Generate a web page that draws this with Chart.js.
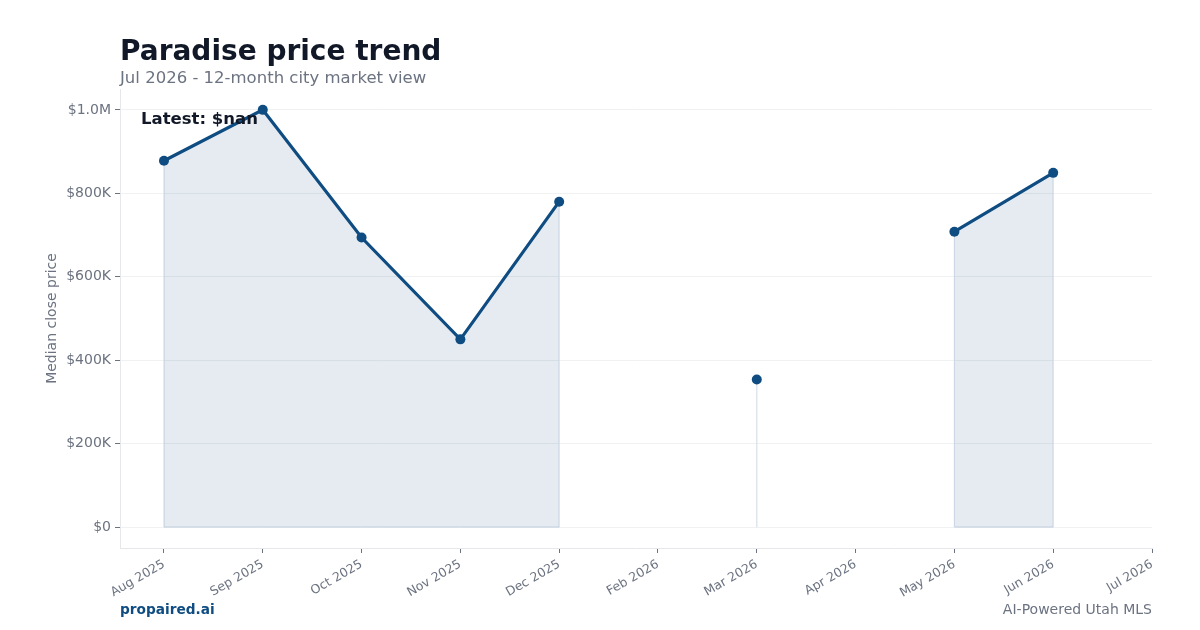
<!DOCTYPE html>
<html>
<head>
<meta charset="utf-8">
<script src="https://cdn.jsdelivr.net/npm/chart.js@4.4.1/dist/chart.umd.min.js"></script>
<style>
  html, body { margin: 0; padding: 0; background: #fff; }
  #wrap { width: 1200px; height: 630px; position: relative; }
</style>
</head>
<body>
<div id="wrap"><canvas id="grafico" width="1200" height="630"></canvas></div>
<script>
// ========================
// Dados do gráfico
// ========================
const meses = ["Aug 2025", "Sep 2025", "Oct 2025", "Nov 2025", "Dec 2025", "Feb 2026",
               "Mar 2026", "Apr 2026", "May 2026", "Jun 2026", "Jul 2026"];
const medianas = [878000, 1000000, 694000, 450000, 780000, null, 354000, null, 708000, 849000, null];
const yTicks = [0, 200000, 400000, 600000, 800000, 1000000];

const titulo = "Paradise price trend";
const subtitulo = "Jul 2026 - 12-month city market view";
const ultimo = "Latest: $nan";

const azul = "#0f4c81";
const cinza = "#6b7280";

function fmtPreco(v) {
  if (v >= 1000000) return "$" + (v / 1000000).toFixed(1) + "M";
  if (v === 0) return "$0";
  return "$" + Math.round(v / 1000) + "K";
}

const pontos = medianas.map((v, i) => ({ x: i, y: v }));

// ========================
// Textos e bordas do preenchimento
// ========================
const extras = {
  id: "extras",
  beforeDatasetsDraw(chart) {
    const { ctx, scales: { x, y } } = chart;
    ctx.save();
    ctx.strokeStyle = "#d7dfe9";
    ctx.lineWidth = 1.2;
    const y0 = y.getPixelForValue(0);
    for (let i = 0; i < medianas.length; i++) {
      const v = medianas[i];
      if (v === null) continue;
      const antes = i > 0 ? medianas[i - 1] : null;
      const depois = i < medianas.length - 1 ? medianas[i + 1] : null;
      const px = x.getPixelForValue(i);
      if (antes === null || depois === null) {
        ctx.beginPath();
        ctx.moveTo(px, y.getPixelForValue(v));
        ctx.lineTo(px, y0);
        ctx.stroke();
      }
      if (depois !== null) {
        ctx.beginPath();
        ctx.moveTo(px, y0);
        ctx.lineTo(x.getPixelForValue(i + 1), y0);
        ctx.stroke();
      }
    }
    ctx.restore();
  },
  afterDraw(chart) {
    const { ctx, chartArea } = chart;
    ctx.save();
    ctx.textBaseline = "alphabetic";
    ctx.textAlign = "left";
    ctx.fillStyle = "#111827";
    ctx.font = "bold 28px 'DejaVu Sans'";
    ctx.fillText(titulo, chartArea.left, 60);
    ctx.fillStyle = cinza;
    ctx.font = "16.5px 'DejaVu Sans'";
    ctx.fillText(subtitulo, chartArea.left, 83);

    ctx.fillStyle = "#111827";
    ctx.font = "bold 16.5px 'DejaVu Sans'";
    ctx.textBaseline = "top";
    ctx.fillText(ultimo, chartArea.left + 21, chartArea.top + 22);

    ctx.textBaseline = "alphabetic";
    ctx.fillStyle = azul;
    ctx.font = "bold 13.7px 'DejaVu Sans'";
    ctx.fillText("propaired.ai", chartArea.left, 614);
    ctx.textAlign = "right";
    ctx.fillStyle = cinza;
    ctx.font = "14px 'DejaVu Sans'";
    ctx.fillText("AI-Powered Utah MLS", chartArea.right, 614);

    ctx.translate(56, (chartArea.top + chartArea.bottom) / 2);
    ctx.rotate(-Math.PI / 2);
    ctx.textAlign = "center";
    ctx.font = "14px 'DejaVu Sans'";
    ctx.fillText("Median close price", 0, 0);
    ctx.restore();
  }
};

new Chart(document.getElementById("grafico").getContext("2d"), {
  type: "line",
  data: {
    datasets: [{
      label: "Median close price",
      data: pontos,
      borderColor: azul,
      borderWidth: 3.2,
      backgroundColor: "rgba(15, 76, 129, 0.11)",
      fill: "origin",
      spanGaps: false,
      tension: 0,
      pointRadius: 5,
      pointHoverRadius: 5,
      pointBackgroundColor: azul,
      pointBorderColor: azul,
      pointBorderWidth: 0
    }]
  },
  options: {
    responsive: false,
    animation: false,
    devicePixelRatio: 1,
    layout: { padding: { top: 89, right: 48, bottom: 0, left: 0 } },
    plugins: {
      legend: { display: false },
      tooltip: { enabled: false }
    },
    scales: {
      x: {
        type: "linear",
        min: -0.445,
        max: 10,
        afterBuildTicks(scale) {
          scale.ticks = meses.map((m, i) => ({ value: i }));
        },
        afterFit(scale) { scale.height = 82; },
        ticks: {
          autoSkip: false,
          minRotation: 30,
          maxRotation: 30,
          color: cinza,
          font: { family: "DejaVu Sans", size: 12.5 },
          padding: 4,
          callback: (v) => meses[v] ?? ""
        },
        grid: {
          drawOnChartArea: false,
          tickLength: 5,
          tickColor: "#6b7280",
          tickWidth: 1
        },
        border: { color: "#e5e7eb", width: 1 }
      },
      y: {
        min: -50000,
        max: 1050000,
        afterBuildTicks(scale) {
          scale.ticks = yTicks.map(v => ({ value: v }));
        },
        afterFit(scale) { scale.width = 120; },
        ticks: {
          color: cinza,
          font: { family: "DejaVu Sans", size: 14 },
          padding: 4,
          callback: (v) => fmtPreco(v)
        },
        grid: {
          color: "#eff1f3",
          lineWidth: 1,
          tickLength: 5,
          tickColor: "#6b7280",
          tickWidth: 1
        },
        border: { color: "#e5e7eb", width: 1 }
      }
    }
  },
  plugins: [extras]
});
</script>
</body>
</html>
